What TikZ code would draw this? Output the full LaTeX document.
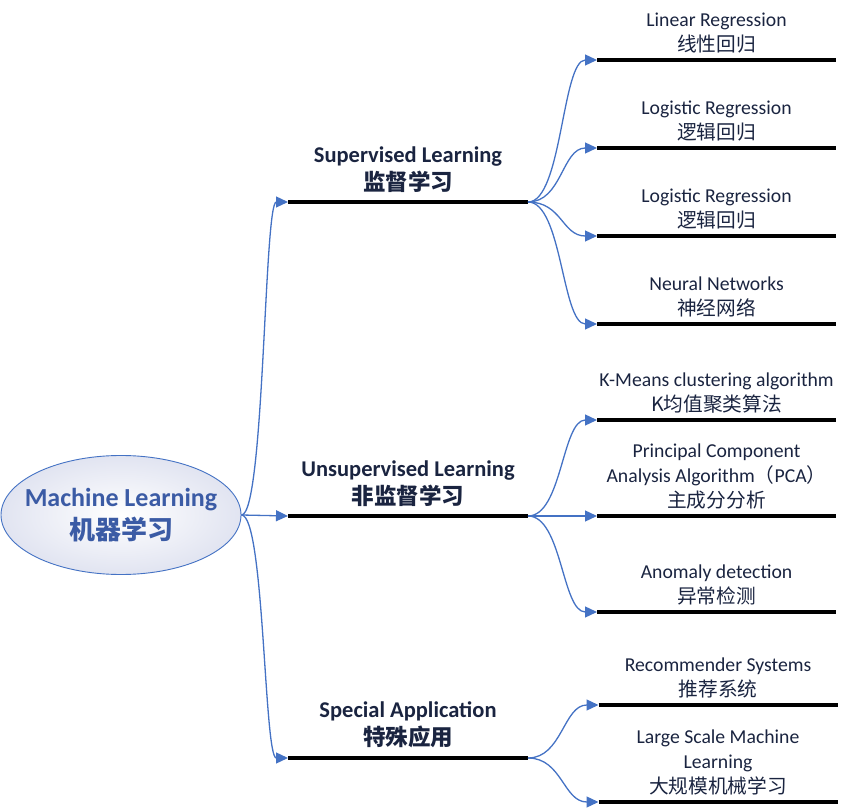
\documentclass[tikz,border=0pt]{standalone}
\usepackage{fontspec}
\setmainfont{Carlito}
\newfontfamily\cjk{Noto Sans CJK SC}
\usetikzlibrary{arrows.meta,shapes.geometric}
\definecolor{lnk}{HTML}{4472C4}
\definecolor{txt}{HTML}{1A2440}
\definecolor{roottxt}{HTML}{3B5BA5}
\definecolor{ellfill}{HTML}{E1E4F1}
\tikzset{
  rootell/.style={ellipse, draw=lnk, line width=0.9pt, inner color=white, outer color=ellfill,
    minimum width=240pt, minimum height=119pt, inner sep=0pt},
  roottext/.style={align=center, text=roottxt, inner sep=0pt,
    font=\fontsize{26}{33}\selectfont\bfseries},
  branch/.style={anchor=south, align=center, text=txt, inner xsep=0pt, inner ysep=9.5pt,
    font=\fontsize{22.5}{28}\selectfont\bfseries},
  leaf/.style={anchor=south, align=center, text=txt, inner xsep=0pt, inner ysep=7pt,
    font=\fontsize{19.7}{25}\selectfont},
  bar/.style={line width=4pt, black},
  conn/.style={draw=lnk, line width=1.3pt, -{Triangle[length=12pt,width=11pt]}},
}
\begin{document}
\begin{tikzpicture}[x=1pt,y=-1pt]
\useasboundingbox (0,0) rectangle (847,810);

% root
\node[rootell] (ml) at (121,515) {};
\node[roottext] (mlt) at (ml.center) {Machine Learning\\{\cjk 机器学习}};

% branches
\node[branch] (sup) at (408,202) {Supervised Learning\\{\cjk 监督学习}};
\node[branch] (uns) at (408,516) {Unsupervised Learning\\{\cjk 非监督学习}};
\node[branch] (spe) at (408,758) {Special Application\\{\cjk 特殊应用}};
\foreach \n in {sup,uns,spe}{
  \coordinate (\n-w) at ([xshift=-120pt]\n.south);
  \coordinate (\n-e) at ([xshift=120pt]\n.south);
  \draw[bar] (\n-w) -- (\n-e);
}

% leaves
\node[leaf] (a1) at (716.5,60) {Linear Regression\\{\cjk 线性回归}};
\node[leaf] (a2) at (716.5,148) {Logistic Regression\\{\cjk 逻辑回归}};
\node[leaf] (a3) at (716.5,236) {Logistic Regression\\{\cjk 逻辑回归}};
\node[leaf] (a4) at (716.5,324) {Neural Networks\\{\cjk 神经网络}};
\node[leaf] (b1) at (716.5,420) {K-Means clustering algorithm\\{\cjk K均值聚类算法}};
\node[leaf] (b2) at (716.5,516) {Principal Component\\Analysis Algorithm{\cjk （}PCA{\cjk ）}\\{\cjk 主成分分析}};
\node[leaf] (b3) at (716.5,612) {Anomaly detection\\{\cjk 异常检测}};
\node[leaf] (c1) at (718,705) {Recommender Systems\\{\cjk 推荐系统}};
\node[leaf] (c2) at (718,802) {Large Scale Machine\\Learning\\{\cjk 大规模机械学习}};
\foreach \n in {a1,a2,a3,a4,b1,b2,b3,c1,c2}{
  \coordinate (\n-w) at ([xshift=-119.5pt]\n.south);
  \coordinate (\n-e) at ([xshift=119.5pt]\n.south);
  \draw[bar] (\n-w) -- (\n-e);
}

% root connectors
\foreach \n in {sup,spe}{
  \draw[conn] (ml.east) .. controls +(23,0) and +(-24,0) .. (\n-w);
}
\draw[conn] (ml.east) -- (uns-w);

% branch connectors
\foreach \n in {a1,a2,a3,a4}{
  \draw[conn] (sup-e) .. controls +(34,0) and +(-35,0) .. (\n-w);
}
\foreach \n in {b1,b3}{
  \draw[conn] (uns-e) .. controls +(34,0) and +(-35,0) .. (\n-w);
}
\draw[conn] (uns-e) -- (b2-w);
\foreach \n in {c1,c2}{
  \draw[conn] (spe-e) .. controls +(34,0) and +(-35,0) .. (\n-w);
}
\end{tikzpicture}
\end{document}
